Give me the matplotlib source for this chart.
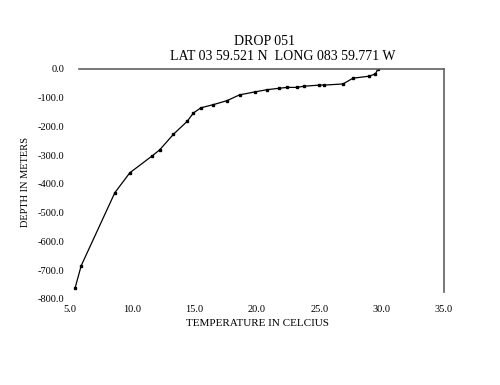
import matplotlib
matplotlib.use("Agg")
import matplotlib.pyplot as plt

# temperature (C) and depth (m), surface first
temps = [29.7, 29.5, 29.0, 27.7, 26.9, 25.4, 25.0, 23.75, 23.2, 22.4, 21.8,
         20.8, 19.8, 18.6, 17.6, 16.5, 15.5, 14.9, 14.4, 13.3, 12.2, 11.6,
         9.8, 8.6, 5.9, 5.4]
depths = [0, -17, -25, -32, -52, -56, -56, -60, -64, -64, -67,
          -72, -80, -90, -110, -124, -135, -153, -182, -227, -281, -302,
          -361, -430, -684, -763]

xticks = [5, 10, 15, 20, 25, 30, 35]
yticks = [0, -100, -200, -300, -400, -500, -600, -700, -800]

plt.rcParams['font.family'] = ['Liberation Serif', 'DejaVu Serif']

fig = plt.figure(figsize=(5, 3.85), dpi=100)
ax = fig.add_axes([0.14, 0.2234, 0.748, 0.5974])

ax.plot(temps, depths, color="black", lw=0.9, marker="s", ms=2)

ax.set_xlim(5, 35)
ax.set_ylim(-800, 0)
ax.set_xticks(xticks)
ax.set_xticklabels([f"{t:.1f}" for t in xticks])
ax.set_yticks(yticks)
ax.set_yticklabels([f"{t:.1f}" for t in yticks])
ax.tick_params(length=0, labelsize=7.5, pad=4)

for s in ["left", "bottom"]:
    ax.spines[s].set_visible(False)
for s in ["top", "right"]:
    ax.spines[s].set_color("#606060")
    ax.spines[s].set_linewidth(1.2)
ax.spines["top"].set_bounds(5.7, 35)
ax.spines["right"].set_bounds(-775, 0)

ax.set_xlabel("TEMPERATURE IN CELCIUS", fontsize=8, labelpad=4)
ax.set_ylabel("DEPTH IN METERS", fontsize=7.5)
ax.yaxis.set_label_coords(-0.107, 0.51)

fig.text(0.53, 0.893, "DROP 051", ha="center", va="center", fontsize=10)
fig.text(0.565, 0.853, "LAT 03 59.521 N  LONG 083 59.771 W", ha="center",
         va="center", fontsize=10)

fig.savefig("out.png", dpi=100)
